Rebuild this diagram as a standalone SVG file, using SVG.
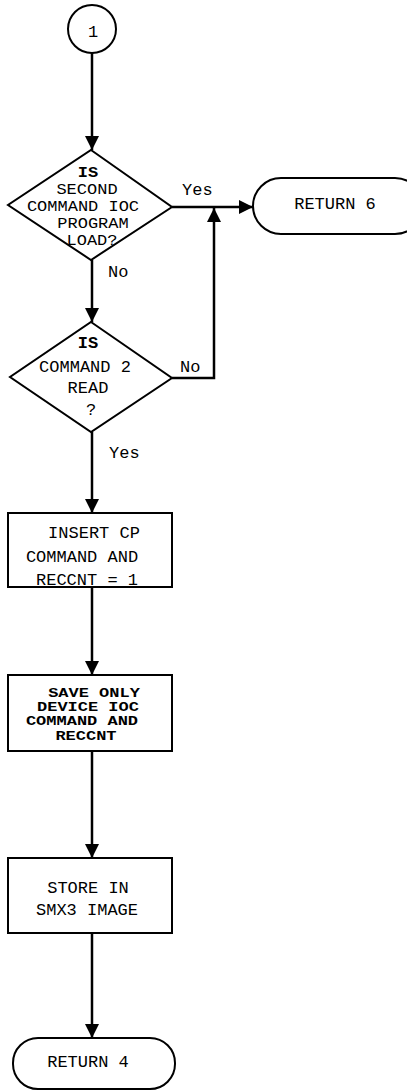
<svg xmlns="http://www.w3.org/2000/svg" width="407" height="1091" viewBox="0 0 407 1091">
<style>
.s{fill:#fff;stroke:#000;stroke-width:2}
.c{fill:none;stroke:#000;stroke-width:2.5}
text{font-family:"Liberation Mono","Courier New",monospace;font-size:17px;fill:#000}
.b{font-weight:bold}
.m{text-anchor:middle}
</style>
<defs>
<marker id="ah" markerUnits="userSpaceOnUse" markerWidth="14" markerHeight="14" refX="14" refY="7" orient="auto">
<path d="M0,0 L14,7 L0,14 z" fill="#000"/>
</marker>
</defs>
<rect width="407" height="1091" fill="#fff"/>
<g id="connectors">
<line class="c" x1="92" y1="53" x2="92" y2="150" marker-end="url(#ah)"/>
<line class="c" x1="172" y1="207" x2="253" y2="207" marker-end="url(#ah)"/>
<line class="c" x1="92" y1="260" x2="92" y2="322" marker-end="url(#ah)"/>
<polyline class="c" points="172,378 214,378 214,208" marker-end="url(#ah)"/>
<line class="c" x1="92" y1="432" x2="92" y2="513" marker-end="url(#ah)"/>
<line class="c" x1="92" y1="587" x2="92" y2="675" marker-end="url(#ah)"/>
<line class="c" x1="92" y1="751" x2="92" y2="858" marker-end="url(#ah)"/>
<line class="c" x1="92" y1="933" x2="92" y2="1038" marker-end="url(#ah)"/>
<text x="182" y="195">Yes</text>
<text x="108" y="277">No</text>
<text x="180" y="372">No</text>
<text x="109" y="458">Yes</text>
</g>
<g id="start">
<circle class="s" cx="92" cy="29" r="24"/>
<text class="m" x="93" y="37">1</text>
</g>
<g id="decision1">
<polygon class="s" points="91,150 172,207 91,260 8,205"/>
<g transform="scale(1,0.85)">
<text class="m b" x="88" y="208.2">IS</text>
<text class="m" x="87" y="228.2">SECOND</text>
<text class="m" x="83" y="248.2">COMMAND IOC</text>
<text class="m" x="93" y="268.2">PROGRAM</text>
<text class="m" x="92" y="288.2">LOAD?</text>
</g>
</g>
<g id="return6">
<rect class="s" x="253" y="178" width="170" height="56" rx="28"/>
<text class="m" x="335" y="209">RETURN 6</text>
</g>
<g id="decision2">
<polygon class="s" points="91,322 172,378 91,432 10,377"/>
<text class="m b" x="88" y="348">IS</text>
<text class="m" x="85" y="372">COMMAND 2</text>
<text class="m" x="88" y="393">READ</text>
<text class="m" x="91" y="415">?</text>
</g>
<g id="insert">
<rect class="s" x="8" y="513" width="164" height="74"/>
<text class="m" x="94" y="538">INSERT CP</text>
<text class="m" x="82" y="562">COMMAND AND</text>
<text class="m" x="87" y="585">RECCNT = 1</text>
</g>
<g id="save">
<rect class="s" x="8" y="675" width="164" height="76"/>
<g transform="scale(1,0.72)">
<text class="m b" x="94" y="968">SAVE ONLY</text>
<text class="m b" x="88" y="987.5">DEVICE IOC</text>
<text class="m b" x="82" y="1007">COMMAND AND</text>
<text class="m b" x="86" y="1027.8">RECCNT</text>
</g>
</g>
<g id="store">
<rect class="s" x="8" y="858" width="164" height="75"/>
<text class="m" x="88" y="893">STORE IN</text>
<text class="m" x="87" y="915">SMX3 IMAGE</text>
</g>
<g id="return4">
<rect class="s" x="13" y="1038" width="162" height="51" rx="25"/>
<text class="m" x="88" y="1067">RETURN 4</text>
</g>
</svg>
